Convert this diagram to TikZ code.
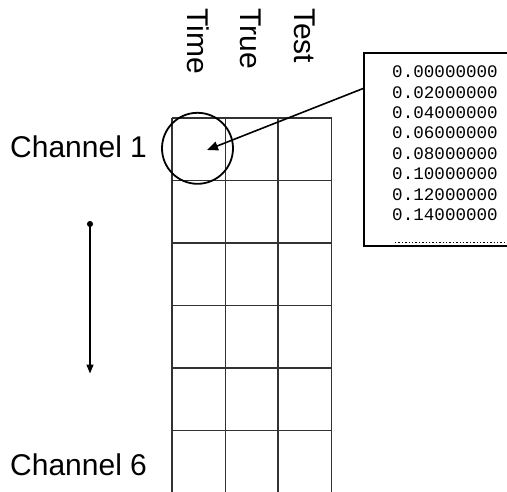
\documentclass[tikz,border=0pt]{standalone}
\usepackage{fontspec}
\setmainfont{Liberation Sans}
\setmonofont{Liberation Mono}
\usepackage{tikz}
\usetikzlibrary{positioning, arrows.meta, calc}
\definecolor{gridgray}{RGB}{50,50,50}

\begin{document}
\begin{tikzpicture}[
  x=1pt, y=-1pt,
  lab/.style={inner sep=0pt, anchor=base west, font=\fontsize{30}{36}\selectfont},
  hd/.style={lab, rotate=-90},
  gridline/.style={draw=gridgray, line width=1.5pt},
  frame/.style={draw, line width=2.4pt, inner sep=0pt, anchor=north west, minimum width=170pt, minimum height=193pt},
  vals/.style={inner sep=0pt, anchor=north west, align=left, font=\ttfamily\fontsize{17.6}{20.4}\selectfont},
  >={Triangle[length=11pt, width=9pt]},
]
\useasboundingbox (0,0) rectangle (507,491);

\foreach \x in {172,225.5,278,331.5}
  \draw[gridline] (\x,118) -- (\x,492);
\foreach \y in {118,180.5,243,305.5,368,430.5}
  \draw[gridline] (172,\y) -- (331.5,\y);

\node[hd] (time) at (187.8,8) {Time};
\node[hd] (true) at (240.7,8) {True};
\node[hd] (test) at (294.3,8) {Test};

\node[lab] (ch1) at (10,157) {Channel 1};
\node[lab] (ch6) at (10,475) {Channel 6};

\node[circle, draw, line width=1.8pt, minimum size=71pt, inner sep=0pt] (cell) at (197.5,148.3) {};
\coordinate (tip) at (207,150);

\node[frame] (box) at (363,52) {};
\node[vals] (nums) at ([xshift=29pt, yshift=-13.7pt]box.north west)
  {0.00000000\\0.02000000\\0.04000000\\0.06000000\\0.08000000\\0.10000000\\0.12000000\\0.14000000};
\draw[line width=1.5pt, dash pattern=on 1.3pt off 2.1pt]
  ([xshift=32pt, yshift=5pt]box.south west) -- ++(130,0);
\coordinate (src) at ($(box.north west)!0.187!(box.south west)$);
\draw[->, line width=1.6pt] (src) -- (tip);

\coordinate (top) at (90,221);
\coordinate (bot) at (90,373.5);
\draw[{Circle[length=6pt]}-{Triangle[length=9pt, width=7pt]}, line width=1.3pt] (top) -- (bot);
\end{tikzpicture}
\end{document}
